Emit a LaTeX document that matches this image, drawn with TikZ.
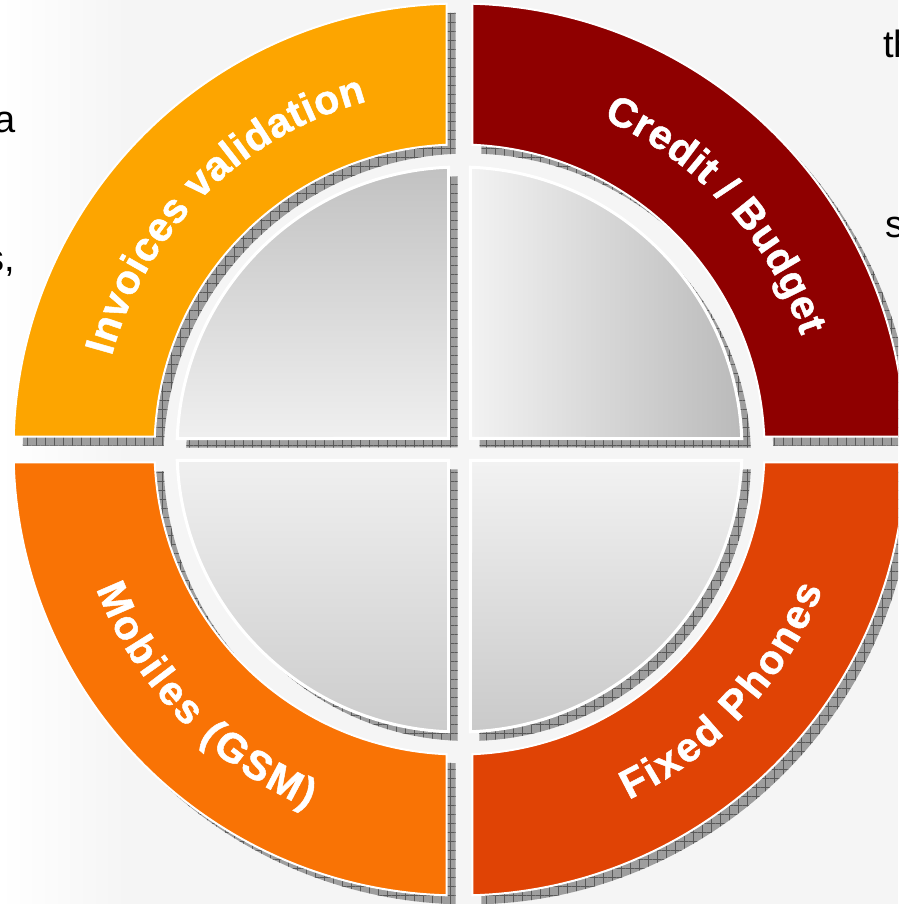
\documentclass[tikz,border=0pt]{standalone}
\usepackage{fontspec}
\setmainfont{Liberation Sans}
\newfontfamily\segfont[BoldFeatures={FakeBold=1.2}]{Liberation Sans}
\usepackage{tikz}
\usetikzlibrary{decorations.text,patterns.meta}

\definecolor{quadTL}{RGB}{253,165,0}
\definecolor{quadTR}{RGB}{143,0,0}
\definecolor{quadBL}{RGB}{249,115,5}
\definecolor{quadBR}{RGB}{224,67,5}

\def\Ro{446}
\def\Ri{305}
\def\Rg{282.5}
\def\gap{13}
\def\hgap{11}
% ring piece and grey piece of the quadrant that starts at angle #1
\newcommand{\segpath}[1]{({#1+asin(\gap/\Ro)}:\Ro) arc[start angle={#1+asin(\gap/\Ro)}, end angle={#1+90-asin(\gap/\Ro)}, radius=\Ro]
  -- ({#1+90-asin(\gap/\Ri)}:\Ri) arc[start angle={#1+90-asin(\gap/\Ri)}, end angle={#1+asin(\gap/\Ri)}, radius=\Ri] -- cycle}
\newcommand{\quadpath}[1]{({#1+asin(\hgap/\Rg)}:\Rg) arc[start angle={#1+asin(\hgap/\Rg)}, end angle={#1+90-asin(\hgap/\Rg)}, radius=\Rg]
  -- ({#1+45}:{\hgap*sqrt(2)}) -- cycle}
\newcommand{\segfontA}{\segfont\bfseries\fontsize{41}{41}\selectfont\kern0.6pt}
\newcommand{\segfontB}{\segfont\bfseries\fontsize{41}{41}\selectfont\kern2.4pt}

\begin{document}
\begin{tikzpicture}[x=1pt,y=1pt]
  \tikzstyle{ring}=[draw=white, line width=2pt]
  \tikzstyle{disc}=[draw=white, line width=3pt]
  \tikzstyle{hatch}=[fill=black!38,
    postaction={pattern={Lines[angle=0,distance=9pt,line width=.4pt]}, pattern color=black!65},
    postaction={pattern={Lines[angle=90,distance=9pt,line width=.4pt]}, pattern color=black!65}]
  \tikzstyle{q0}=[left color=black!5, right color=black!27]
  \tikzstyle{q90}=[top color=black!24, bottom color=black!6]
  \tikzstyle{q180}=[top color=black!6, bottom color=black!20]
  \tikzstyle{q270}=[top color=black!5, bottom color=black!21]
  \tikzstyle{bgtext}=[font=\fontsize{38}{38}\selectfont, inner sep=0pt]

  \path[use as bounding box, fill=black!4] (-459.5,-454.5) rectangle (438.5,449.5);
  \clip (-459.5,-454.5) rectangle (438.5,449.5);
  \shade[left color=white, right color=black!4] (-459.5,-454.5) rectangle (-330,449.5);

  % text of the slide behind
  \node[bgtext, anchor=base east] (bga) at (-444,316.5) {a};
  \node[bgtext, anchor=base east] (bgs) at (-444,177.5) {s,};
  \node[bgtext, anchor=base west] (bgth) at (423.5,391.5) {th};
  \node[bgtext, anchor=base west] (bgss) at (425.5,211.5) {s};

  % shadows
  \foreach \a in {0,90,180,270} {
    \path[hatch, shift={(9,-9)}] \segpath{\a};
    \path[hatch, shift={(9,-9)}] \quadpath{\a};
  }

  \foreach \a/\c in {0/quadTR,90/quadTL,180/quadBL,270/quadBR} {
    \path[ring, fill=\c] \segpath{\a};
    \path[disc, q\a] \quadpath{\a};
  }

  \path[decorate, decoration={text along path, text align=center, text color=white,
    text={|\segfontA|Invoices validation}}]
    (179:360) arc[start angle=179, end angle=91, radius=360];
  \path[decorate, decoration={text along path, text align=center, text color=white,
    text={|\segfontA|Credit / Budget}}]
    (86.5:360) arc[start angle=86.5, end angle=-1.5, radius=360];
  \path[decorate, decoration={text along path, text align=center, text color=white,
    text={|\segfontB|Mobiles (GSM)}}]
    (179.9:389) arc[start angle=179.9, end angle=267.9, radius=389];
  \path[decorate, decoration={text along path, text align=center, text color=white,
    text={|\segfontB|Fixed Phones}}]
    (273.2:389) arc[start angle=273.2, end angle=361.2, radius=389];
\end{tikzpicture}
\end{document}
